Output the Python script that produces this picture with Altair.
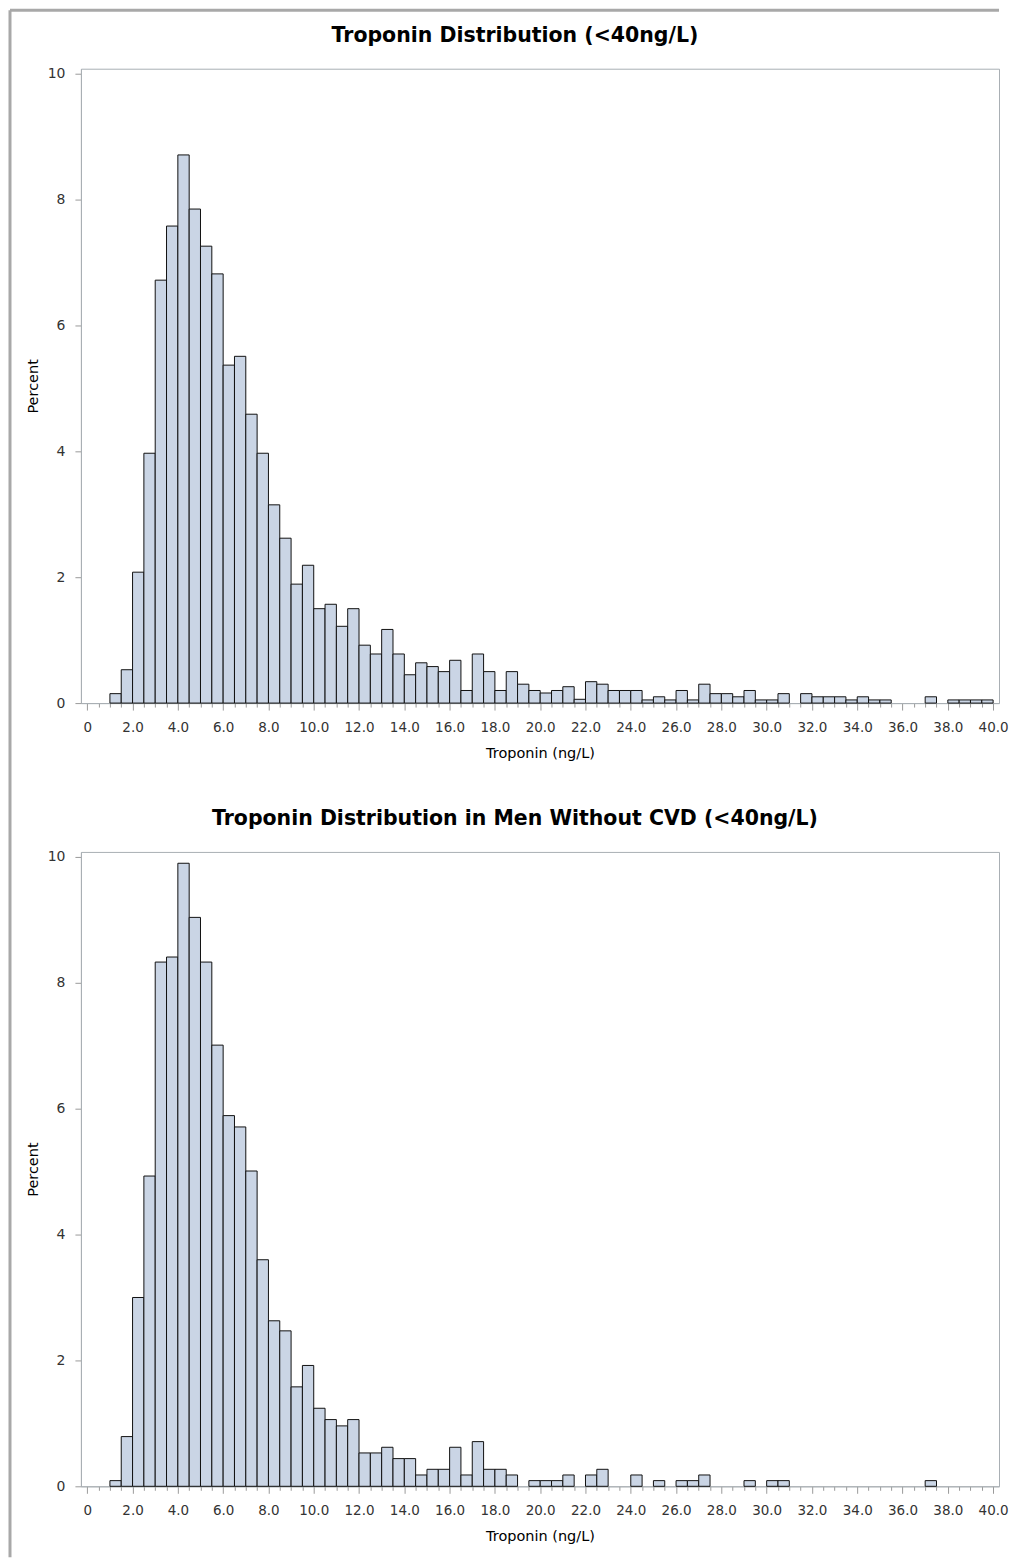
import altair as alt
import pandas as pd

# Bin left edges (bin width 0.5 ng/L)
bin_left = [1.0 + 0.5 * i for i in range(78)]  # 1.0 ... 39.5

# Percent per bin, all participants (<40 ng/L)
pct_all = [
    0.15, 0.53, 2.08, 3.97, 6.72, 7.58, 8.71, 7.85, 7.26, 6.82,   # 1.0 - 5.5
    5.37, 5.51, 4.59, 3.97, 3.15, 2.62, 1.89, 2.19, 1.50, 1.57,   # 6.0 - 10.5
    1.22, 1.50, 0.92, 0.78, 1.17, 0.78, 0.45, 0.64, 0.58, 0.50,   # 11.0 - 15.5
    0.68, 0.20, 0.78, 0.50, 0.20, 0.50, 0.30, 0.20, 0.16, 0.20,   # 16.0 - 20.5
    0.26, 0.06, 0.34, 0.30, 0.20, 0.20, 0.20, 0.05, 0.10, 0.05,   # 21.0 - 25.5
    0.20, 0.05, 0.30, 0.15, 0.15, 0.10, 0.20, 0.05, 0.05, 0.15,   # 26.0 - 30.5
    0.00, 0.15, 0.10, 0.10, 0.10, 0.05, 0.10, 0.05, 0.05, 0.00,   # 31.0 - 35.5
    0.00, 0.00, 0.10, 0.00, 0.05, 0.05, 0.05, 0.05,               # 36.0 - 39.5
]

# Percent per bin, men without CVD (<40 ng/L)
pct_men = [
    0.09, 0.79, 3.00, 4.93, 8.33, 8.41, 9.90, 9.04, 8.33, 7.01,   # 1.0 - 5.5
    5.89, 5.71, 5.01, 3.60, 2.63, 2.47, 1.58, 1.92, 1.24, 1.06,   # 6.0 - 10.5
    0.96, 1.06, 0.53, 0.53, 0.62, 0.44, 0.44, 0.18, 0.27, 0.27,   # 11.0 - 15.5
    0.62, 0.18, 0.71, 0.27, 0.27, 0.18, 0.00, 0.09, 0.09, 0.09,   # 16.0 - 20.5
    0.18, 0.00, 0.18, 0.27, 0.00, 0.00, 0.18, 0.00, 0.09, 0.00,   # 21.0 - 25.5
    0.09, 0.09, 0.18, 0.00, 0.00, 0.00, 0.09, 0.00, 0.09, 0.09,   # 26.0 - 30.5
    0.00, 0.00, 0.00, 0.00, 0.00, 0.00, 0.00, 0.00, 0.00, 0.00,   # 31.0 - 35.5
    0.00, 0.00, 0.09, 0.00, 0.00, 0.00, 0.00, 0.00,               # 36.0 - 39.5
]

x_tick_values = [0.5 * i for i in range(81)]  # 0 ... 40 every 0.5
y_tick_values = [0, 2, 4, 6, 8, 10]

titles = [
    "Troponin Distribution (<40ng/L)",
    "Troponin Distribution in Men Without CVD (<40ng/L)",
]

FONT = "DejaVu Sans"
AXIS_GREY = "#a9afb4"
TICK_GREY = "#9a9a9a"
FRAME_GREY = "#a8a8a8"
W, H = 919, 635


def make_df(pct):
    df = pd.DataFrame({
        "lo": bin_left,
        "hi": [b + 0.5 for b in bin_left],
        "pct": pct,
    })
    return df[df["pct"] > 0]


def panel(pct, title):
    bars = alt.Chart(make_df(pct)).mark_rect(
        fill="#CAD5E5", stroke="#111111", strokeWidth=1
    ).encode(
        x=alt.X(
            "lo:Q",
            title="Troponin (ng/L)",
            scale=alt.Scale(domain=[-0.28, 40.26], nice=False, zero=False),
            axis=alt.Axis(
                values=x_tick_values,
                labelExpr="datum.value % 2 === 0 ? (datum.value === 0 ? '0' : format(datum.value, '.1f')) : ''",
                tickSize={"condition": {"test": "datum.value % 2 === 0", "value": 7}, "value": 4},
                labelPadding=10,
                labelFontSize=13.5,
                titlePadding=13,
                labelOverlap=False,
                labelFlush=False,
                grid=False,
            ),
        ),
        x2="hi:Q",
        y=alt.Y(
            "pct:Q",
            title="Percent",
            scale=alt.Scale(domain=[0, 10.08], nice=False),
            axis=alt.Axis(
                values=y_tick_values,
                format="d",
                tickSize=6,
                labelPadding=10,
                titlePadding=7,
                grid=False,
            ),
        ),
        y2=alt.datum(0),
    )
    return bars.properties(
        width=W,
        height=H,
        title=alt.TitleParams(
            text=title,
            font=FONT,
            fontSize=20.5,
            fontWeight="bold",
            color="#000000",
            anchor="middle",
            frame="group",
            dx=-25,
            offset=20,
        ),
    )


# Outer grey frame of the figure (left and top edges)
bd = pd.DataFrame({"k": [0]})
frame_top = alt.Chart(bd).mark_rule(color=FRAME_GREY, strokeWidth=3).encode(
    x=alt.value(0), x2=alt.value(990), y=alt.value(-58.5)
)
frame_left = alt.Chart(bd).mark_rule(color=FRAME_GREY, strokeWidth=3).encode(
    x=alt.value(0), y=alt.value(-58.5), y2=alt.value(1490)
)
frame = alt.layer(frame_top, frame_left).properties(
    width=1, height=1, view=alt.ViewBackground(strokeOpacity=0)
)

panels = alt.vconcat(
    panel(pct_all, titles[0]),
    panel(pct_men, titles[1]),
    spacing=149,
    bounds="flush",
)

chart = alt.hconcat(
    frame, panels, spacing=70, bounds="flush"
).properties(
    padding={"left": 0, "top": 0, "right": 0, "bottom": 0},
).configure_view(
    stroke=AXIS_GREY, strokeWidth=1
).configure_axis(
    domainColor=AXIS_GREY,
    tickColor=TICK_GREY,
    labelFont=FONT,
    labelFontSize=14,
    labelColor="#333333",
    titleFont=FONT,
    titleFontSize=14.5,
    titleFontWeight="normal",
    titleColor="#000000",
)

chart.save("out.html", embed_options={"renderer": "svg", "actions": False})
